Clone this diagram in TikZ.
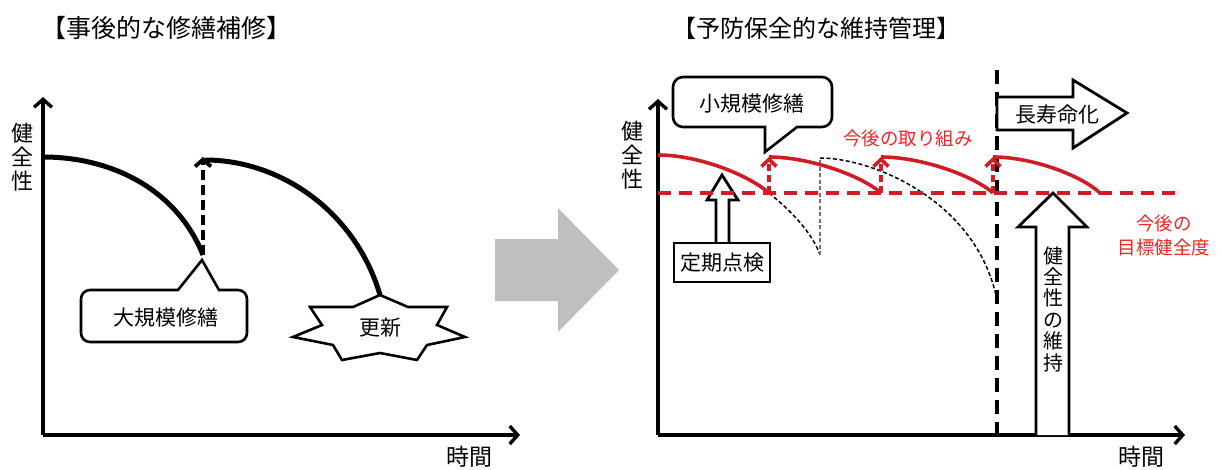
\documentclass[tikz,border=0pt]{standalone}
\usepackage{fontspec}
\setmainfont{Noto Sans CJK JP}
\usetikzlibrary{arrows.meta}
\definecolor{redline}{RGB}{208,28,36}
\definecolor{redtext}{RGB}{245,35,35}
\definecolor{arrowgray}{RGB}{191,191,191}
\tikzset{
  fs/.style={font=\fontsize{#1}{#1}\selectfont},
  lbl/.style={inner sep=0pt, align=center},
  vlbl/.style 2 args={inner sep=0pt, align=center, font=\fontsize{#1}{#2}\selectfont},
  axisline/.style={line width=3.4pt, -{Straight Barb[length=8pt,width=18pt]}},
  oldcurve/.style={line width=5pt},
  repairarrow/.style={line width=3.8pt, dash pattern=on 10pt off 5pt, -{Straight Barb[length=7pt,width=16pt]}},
  redcurve/.style={redline, line width=3.6pt},
  redarrow/.style={redline, line width=3.6pt, dash pattern=on 7pt off 4pt, -{Straight Barb[length=7pt,width=15pt]}},
  targetline/.style={redline, line width=3.6pt, dash pattern=on 13pt off 8pt},
  decay/.style={line width=1.5pt, dash pattern=on 4pt off 2.5pt},
  boxline/.style={draw=black, line width=2.6pt, fill=white},
  bigarrow/.style={draw=black, line width=2.8pt, fill=white},
}
\begin{document}
\begin{tikzpicture}[x=1pt,y=-1pt]
\useasboundingbox (0,0) rectangle (1222,469);

% ---------------- titles ----------------
\node[lbl, fs=25] (t1) at (166,28) {【事後的な修繕補修】};
\node[lbl, fs=24] (t2) at (816,28) {【予防保全的な維持管理】};

% ---------------- left panel ----------------
\coordinate (lo) at (43,435);
\coordinate (ly) at (43,97);
\coordinate (lx) at (520,435);
\draw[axisline] (lo) -- (ly);
\draw[axisline] (lo) -- (lx);
\node[vlbl={22}{24}] (lyl) at (22,157) {健\\全\\性};
\node[lbl, fs=23] (lxl) at (469,457) {時間};

\coordinate (c1s) at (43,157);
\coordinate (c1e) at (203,255);
\coordinate (c2s) at (205,160);
\coordinate (c2e) at (380,295);
\coordinate (rtop) at (203,157);
\draw[oldcurve] (c1s) .. controls (115,157) and (178,192) .. (c1e);
\draw[oldcurve] (c2s) .. controls (282,160) and (356,213) .. (c2e);
\draw[repairarrow] (c1e) -- (rtop);

% callout 大規模修繕
\draw[boxline] (202,260) -- (178,290) [rounded corners=9pt] -- (81,290) -- (81,342) -- (247,342) -- (247,290) [sharp corners] -- (219,290) -- cycle;
\node[lbl, fs=21] (big) at (166,318) {大規模修繕};

% starburst 更新
\draw[boxline] (380,295) -- (408,307) -- (447,307) -- (437,325) -- (465,337) -- (427,345) -- (417,360) -- (380,353) -- (342,360) -- (333,345) -- (293,337) -- (322,325) -- (310,307) -- (353,307) -- cycle;
\node[lbl, fs=21] (renew) at (380,328) {更新};

% ---------------- middle arrow ----------------
\fill[arrowgray] (495,239) -- (558,239) -- (558,208) -- (619,270) -- (558,332) -- (558,301) -- (495,301) -- cycle;

% ---------------- right panel ----------------
\coordinate (ro) at (658,435);
\coordinate (ry) at (658,99);
\coordinate (rx) at (1185,435);
\draw[axisline] (ro) -- (ry);
\draw[axisline] (ro) -- (rx);
\node[vlbl={22}{24}] (ryl) at (632,155) {健\\全\\性};
\node[lbl, fs=23] (rxl) at (1141,457) {時間};

% black dashed vertical (life extension)
\coordinate (vt) at (997,70);
\coordinate (vb) at (997,435);
\draw[line width=3.8pt, dash pattern=on 14pt off 8pt] (vt) -- (vb);

% decay curves (thin dashed)
\coordinate (d1s) at (769,193);
\coordinate (d1e) at (820,255);
\coordinate (d2s) at (820,158);
\coordinate (d2e) at (997,300);
\draw[decay] (d1s) .. controls (790,210) and (812,232) .. (d1e);
\draw[decay, black!55] (d1e) -- (d2s);
\draw[decay] (d2s) .. controls (872,158) and (977,200) .. (d2e);

% 長寿命化 arrow
\draw[bigarrow] (997,97) -- (1073,97) -- (1073,80) -- (1127,113) -- (1073,148) -- (1073,130) -- (997,130) -- cycle;
\node[lbl, fs=21] (life) at (1057,115) {長寿命化};

% 定期点検 box and arrow
\draw[bigarrow] (716,243) -- (716,200) -- (707,200) -- (722,175) -- (738,200) -- (729,200) -- (729,243);
\draw[boxline] (674,243) rectangle (770,282);
\node[lbl, fs=21] (insp) at (722,263) {定期点検};

% 健全性の維持 arrow
\draw[bigarrow] (1036,435) -- (1036,227) -- (1018,227) -- (1053,193) -- (1087,227) -- (1069,227) -- (1069,435);
\node[vlbl={20}{21.4}] (keep) at (1053,309) {健\\全\\性\\の\\維\\持};

% target line
\coordinate (ts) at (658,193);
\coordinate (te) at (1175,193);
\draw[targetline] (ts) -- (te);

% red curves and repair arrows
\coordinate (r0) at (658,155);
\coordinate (a1b) at (769,193);
\coordinate (a1t) at (769,157);
\coordinate (a2b) at (881,193);
\coordinate (a2t) at (881,157);
\coordinate (a3b) at (993,193);
\coordinate (a3t) at (993,157);
\coordinate (r4e) at (1100,193);
\draw[redcurve] (r0) .. controls (700,155) and (750,176) .. (a1b);
\draw[redcurve] (a1t) .. controls (810,157) and (862,176) .. (a2b);
\draw[redcurve] (a2t) .. controls (922,157) and (974,176) .. (a3b);
\draw[redcurve] (a3t) .. controls (1033,157) and (1082,176) .. (r4e);
\draw[redarrow] (a1b) -- (a1t);
\draw[redarrow] (a2b) -- (a2t);
\draw[redarrow] (a3b) -- (a3t);

% callout 小規模修繕
\draw[boxline] (765,152) -- (765,127) [rounded corners=10pt] -- (673,127) -- (673,77) -- (832,77) -- (832,127) [sharp corners] -- (797,127) -- cycle;
\node[lbl, fs=21] (small) at (752,104) {小規模修繕};

% red labels
\node[lbl, fs=18.5, text=redtext] (future) at (908,138) {今後の取り組み};
\node[vlbl={18.5}{24}, text=redtext] (target) at (1164,235) {今後の\\目標健全度};

\end{tikzpicture}
\end{document}
